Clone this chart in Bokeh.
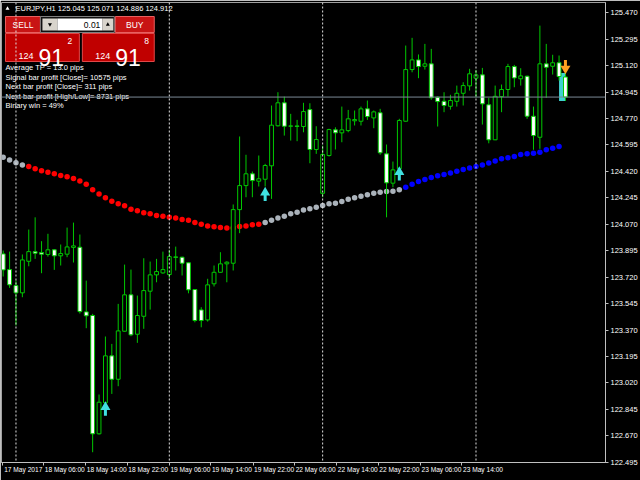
from bokeh.plotting import figure
from bokeh.models import (LinearAxis, FixedTicker, Range1d, Span, Label,
                          ColumnDataSource, PrintfTickFormatter)
from bokeh.embed import file_html
from bokeh.resources import INLINE
from bokeh.core.properties import value

# ---------------- data (EURJPY H1) ----------------
opens = [123.874, 123.770, 123.664, 123.616, 123.825, 123.889, 123.883, 123.870, 123.901, 123.861,
         123.872, 123.917, 123.918, 123.490, 123.466, 122.683, 122.888, 123.199, 123.044, 123.362,
         123.603, 123.342, 123.461, 123.627, 123.735, 123.748, 123.737, 123.854, 123.852, 123.815,
         123.638, 123.503, 123.437, 123.676, 123.752, 123.808, 123.812, 124.167, 124.326, 124.404,
         124.355, 124.368, 124.457, 124.722, 124.874, 124.719, 124.721, 124.717, 124.829, 124.565,
         124.275, 124.525, 124.695, 124.675, 124.690, 124.755, 124.752, 124.834, 124.774, 124.808,
         124.536, 124.342, 124.437, 124.752, 125.094, 125.158, 125.116, 125.132, 124.911, 124.884,
         124.851, 124.884, 124.937, 124.986, 125.037, 125.059, 124.861, 124.629, 124.915, 124.962,
         125.114, 125.033, 125.050, 124.785, 124.646, 125.132, 125.116, 125.139, 125.045]
highs = [123.896, 123.889, 123.697, 123.870, 124.035, 124.116, 123.958, 124.007, 123.905, 123.936,
         124.048, 124.081, 124.002, 123.697, 123.477, 122.943, 123.327, 123.278, 123.543, 123.803,
         123.770, 123.598, 123.845, 123.823, 123.841, 123.889, 123.901, 123.922, 123.855, 123.817,
         123.640, 123.521, 123.709, 123.797, 123.885, 123.825, 124.201, 124.651, 124.530, 124.419,
         124.525, 124.470, 124.856, 124.944, 124.915, 124.801, 124.761, 124.874, 124.871, 124.719,
         124.591, 124.702, 124.712, 124.849, 124.827, 124.823, 124.849, 124.889, 124.823, 124.834,
         124.598, 124.485, 124.768, 125.253, 125.304, 125.194, 125.264, 125.231, 124.917, 124.944,
         124.927, 124.988, 125.010, 125.099, 125.092, 125.105, 124.907, 124.988, 124.995, 125.132,
         125.125, 125.103, 125.054, 124.849, 125.385, 125.264, 125.192, 125.187, 125.071]
lows = [123.724, 123.649, 123.400, 123.587, 123.792, 123.841, 123.746, 123.856, 123.768, 123.797,
        123.852, 123.817, 123.479, 123.382, 122.561, 122.678, 122.885, 122.947, 122.998, 123.360,
        123.329, 123.285, 123.378, 123.505, 123.686, 123.742, 123.713, 123.764, 123.731, 123.613,
        123.421, 123.388, 123.426, 123.658, 123.750, 123.686, 123.764, 124.011, 124.249, 124.249,
        124.320, 124.320, 124.238, 124.717, 124.657, 124.624, 124.620, 124.679, 124.474, 124.536,
        124.249, 124.518, 124.565, 124.613, 124.679, 124.724, 124.724, 124.761, 124.706, 124.530,
        124.116, 124.315, 124.434, 124.750, 125.076, 125.037, 125.094, 124.894, 124.717, 124.812,
        124.829, 124.849, 124.856, 124.955, 124.911, 124.730, 124.606, 124.627, 124.812, 124.915,
        124.977, 124.988, 124.768, 124.563, 124.569, 124.907, 125.061, 125.021, 124.886]
closes = [123.768, 123.669, 123.616, 123.834, 123.889, 123.878, 123.872, 123.901, 123.861, 123.876,
          123.920, 123.927, 123.492, 123.464, 122.683, 122.892, 123.199, 123.044, 123.364, 123.603,
          123.338, 123.466, 123.631, 123.735, 123.757, 123.770, 123.856, 123.851, 123.812, 123.636,
          123.433, 123.433, 123.669, 123.752, 123.808, 123.819, 124.167, 124.326, 124.404, 124.359,
          124.371, 124.459, 124.726, 124.874, 124.719, 124.721, 124.718, 124.816, 124.565, 124.631,
          124.532, 124.697, 124.675, 124.695, 124.768, 124.763, 124.834, 124.783, 124.814, 124.543,
          124.344, 124.430, 124.757, 125.094, 125.158, 125.114, 125.132, 124.907, 124.882, 124.856,
          124.889, 124.937, 124.988, 125.066, 125.059, 124.867, 124.629, 124.917, 124.962, 125.114,
          125.039, 125.052, 124.785, 124.657, 125.132, 125.109, 125.139, 125.048, 124.912]

# trend line (dots), one value per bar up to the previous bar
trend = [124.514, 124.496, 124.477, 124.463, 124.452, 124.437, 124.424, 124.414, 124.404, 124.393,
         124.384, 124.373, 124.357, 124.335, 124.298, 124.271, 124.245, 124.222, 124.205, 124.192,
         124.169, 124.159, 124.146, 124.139, 124.128, 124.123, 124.116, 124.112, 124.101, 124.097,
         124.081, 124.070, 124.059, 124.053, 124.048, 124.046, 124.046, 124.055, 124.059, 124.066,
         124.070, 124.081, 124.097, 124.112, 124.123, 124.139, 124.150, 124.165, 124.172, 124.183,
         124.194, 124.205, 124.209, 124.220, 124.236, 124.245, 124.255, 124.265, 124.275, 124.282,
         124.287, 124.289, 124.298, 124.315, 124.335, 124.353, 124.366, 124.379, 124.391, 124.399,
         124.410, 124.421, 124.432, 124.442, 124.452, 124.462, 124.475, 124.488, 124.503, 124.510,
         124.518, 124.532, 124.536, 124.540, 124.547, 124.563, 124.573, 124.584]
trend_runs = [("flat", 4), ("down", 37), ("flat", 22), ("up", 25)]

buy_arrow_bars = [16, 41, 62]
buy_arrow_prices = [122.843, 124.263, 124.399]
sell_arrow_bars = [88]
sell_arrow_prices = [125.117]

day_separator_bars = [2, 26, 50, 74]

time_tick_pos = [-0.16, 6.34, 12.9, 19.4, 26.0, 32.5, 39.1, 45.6, 52.2, 58.7, 65.3, 71.8]
time_tick_labels = ["17 May 2017", "18 May 06:00", "18 May 14:00", "18 May 22:00", "19 May 06:00",
                    "19 May 14:00", "19 May 22:00", "22 May 06:00", "22 May 14:00", "22 May 22:00",
                    "23 May 06:00", "23 May 14:00"]
price_ticks = [122.495 + 0.175 * k for k in range(18)]

info_lines = ["Average TP = 13.0 pips",
              "Signal bar profit [Close]= 10575 pips",
              "Next bar profit [Close]= 311 pips",
              "Next bar profit [High/Low]= 8731 pips",
              "Binary win = 49%"]
header = "EURJPY,H1  125.045 125.071 124.886 124.912"

# ---------------- figure ----------------
X0, X1 = -0.266, 94.27
Y0, Y1 = 122.493, 125.538
FONT = value("Liberation Sans")
GREEN = "#00c800"

p = figure(width=640, height=480, x_range=Range1d(X0, X1), y_range=Range1d(Y0, Y1),
           output_backend="svg", toolbar_location=None,
           x_axis_location=None, y_axis_location=None,
           background_fill_color="black", border_fill_color="black",
           min_border_left=1, min_border_top=2, min_border_right=34, min_border_bottom=18)
p.grid.visible = False
p.outline_line_color = "#a0a0a0"

yax = LinearAxis(ticker=FixedTicker(ticks=price_ticks), formatter=PrintfTickFormatter(format="%.3f"))
yax.axis_line_color = "#c0c0c0"
yax.major_tick_line_color = "#c0c0c0"
yax.major_tick_out = 3
yax.major_tick_in = 0
yax.minor_tick_out = 0
yax.minor_tick_in = 0
yax.major_label_text_color = "white"
yax.major_label_text_font = "Liberation Sans"
yax.major_label_text_font_size = "7.5px"
yax.major_label_standoff = 2
p.add_layout(yax, "right")

# time axis: tick marks on one axis (no labels) ...
xax = LinearAxis(ticker=FixedTicker(ticks=time_tick_pos),
                 major_label_overrides={t: "" for t in time_tick_pos})
xax.axis_line_color = "#c0c0c0"
xax.major_tick_line_color = "#c0c0c0"
xax.major_tick_out = 3
xax.major_tick_in = 0
xax.minor_tick_out = 0
xax.minor_tick_in = 0
xax.major_label_text_font_size = "0px"
xax.major_label_standoff = 0
p.add_layout(xax, "below")

# ... and the labels, set to the right of each tick (MT4 style), on a second one
LABEL_SHIFT = 3.3  # bars: half a label width plus a small gap
label_pos = [t + LABEL_SHIFT for t in time_tick_pos]
xlab = LinearAxis(ticker=FixedTicker(ticks=label_pos),
                  major_label_overrides={t: s for t, s in zip(label_pos, time_tick_labels)})
xlab.axis_line_color = None
xlab.major_tick_line_color = None
xlab.major_tick_out = 0
xlab.major_tick_in = 0
xlab.minor_tick_out = 0
xlab.minor_tick_in = 0
xlab.major_label_text_color = "white"
xlab.major_label_text_font = "Liberation Sans"
xlab.major_label_text_font_size = "6.6px"
xlab.major_label_standoff = 0
p.add_layout(xlab, "below")

# day separators
for b in day_separator_bars:
    p.add_layout(Span(location=b, dimension="height", line_color="#e0e0e0",
                      line_dash="2 2", line_width=1))

# bid line
p.add_layout(Span(location=closes[-1], dimension="width", line_color="#7a8896", line_width=1))

# trend dots
colors_map = {"flat": "#aab2ba", "down": "#ff0000", "up": "#0000ff"}
dot_colors = []
for state, n in trend_runs:
    dot_colors += [colors_map[state]] * n
p.scatter(list(range(len(trend))), trend, size=5.5, color=dot_colors, line_color=None)

# highlight of the current bar range
n = len(opens)
p.quad(left=[n - 2], right=[n - 1], top=[highs[-1]], bottom=[lows[-1]],
       fill_color="#3fd0d0", line_color=None)

# candles
idx = list(range(n))
src = ColumnDataSource(dict(
    x=idx, h=highs, l=lows,
    top=[max(o, c) for o, c in zip(opens, closes)],
    bot=[min(o, c) for o, c in zip(opens, closes)],
    fill=["black" if c >= o else "white" for o, c in zip(opens, closes)],
))
p.segment(x0="x", y0="h", x1="x", y1="l", source=src, line_color=GREEN, line_width=1)
p.vbar(x="x", width=0.6, top="top", bottom="bot", source=src,
       fill_color="fill", line_color=GREEN, line_width=1)

# signal arrows
PX = (Y1 - Y0) / 460.0  # price per pixel (style offset)
p.segment(x0=buy_arrow_bars, x1=buy_arrow_bars,
          y0=[v - 6 * PX for v in buy_arrow_prices], y1=[v + 1 * PX for v in buy_arrow_prices],
          line_color="#40e0e0", line_width=3)
p.scatter(buy_arrow_bars, [v + 2.5 * PX for v in buy_arrow_prices], marker="triangle",
          size=10, color="#40e0e0", line_color=None)
p.segment(x0=sell_arrow_bars, x1=sell_arrow_bars,
          y0=[v + 6 * PX for v in sell_arrow_prices], y1=[v - 1 * PX for v in sell_arrow_prices],
          line_color="#ffa020", line_width=3)
p.scatter(sell_arrow_bars, [v - 2.5 * PX for v in sell_arrow_prices], marker="inverted_triangle",
          size=10, color="#ffa020", line_color=None)

# ---------------- overlay panel (reference-pixel helpers) ----------------
def fx(px):
    return X0 + (px - 1) * (X1 - X0) / 605.0

def fy(py):
    return Y1 - (py - 2) * (Y1 - Y0) / 460.0

def box(x0, y0, x1, y1, fill, line=None):
    p.quad(left=[fx(x0)], right=[fx(x1)], top=[fy(y0)], bottom=[fy(y1)],
           fill_color=fill, line_color=line)

def txt(px, py, s, size="7.5px", color="white", align="left", baseline="middle"):
    p.text(x=[fx(px)], y=[fy(py)], text=[s], text_color=color, text_font=FONT,
           text_font_size=size, text_align=align, text_baseline=baseline)

# header
p.scatter([fx(7)], [fy(8)], marker="triangle", size=4, color="white", line_color=None)
txt(15, 8, header)

# top buttons row
box(5, 16, 40, 32, "#c81414", "#e86060")
txt(22.5, 24, "SELL", size="8.5px", align="center")
box(40, 16, 114, 32, "#101010", "#808080")
box(42, 18, 57, 30, "#d8d4cc", None)
box(102, 18, 113, 30, "#d8d4cc", None)
box(57, 18, 102, 30, "white", None)
p.scatter([fx(49.5)], [fy(24)], marker="inverted_triangle", size=4, color="black", line_color=None)
p.scatter([fx(107.5)], [fy(24)], marker="triangle", size=4, color="black", line_color=None)
txt(100, 24.5, "0.01", size="8.5px", color="black", align="right")
box(115, 16, 154, 32, "#c81414", "#e86060")
txt(134.5, 24, "BUY", size="8.5px", align="center")

# price panels
for left, right, big, sup in [(5, 79, "91", "2"), (82, 154, "91", "8")]:
    box(left, 33, right, 61, "#c00000", "#e04848")
    txt(left + 13, 55, "124", size="9px", baseline="alphabetic")
    txt(left + 33, 57, big, size="23px", baseline="alphabetic")
    txt(left + 62, 40, sup, size="8.5px")

# info lines
for i, s in enumerate(info_lines):
    txt(5, 67 + 9.6 * i, s)

# bid price box on axis
p.add_layout(Label(x=X1, y=closes[-1], text="124.912", text_color="black",
                   text_font_size="7.5px", text_font="Liberation Sans", text_baseline="middle",
                   text_align="left", x_offset=1, background_fill_color="white",
                   border_line_color="#c0c0c0"))

open("out.html", "w").write(file_html(p, INLINE))
